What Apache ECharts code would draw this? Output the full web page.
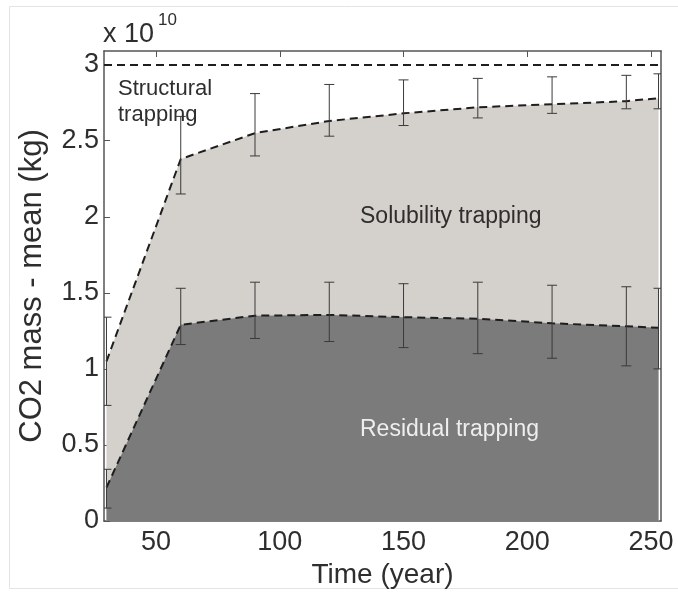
<!DOCTYPE html>
<html>
<head>
<meta charset="utf-8">
<title>CO2 trapping</title>
<script src="https://cdn.jsdelivr.net/npm/echarts@6/dist/echarts.min.js"></script>
<style>
  html, body { margin: 0; padding: 0; background: #fff; }
  #main { width: 678px; height: 595px; }
</style>
</head>
<body>
<div id="main"></div>
<script>
// time (year)
var times = [30, 60, 90, 120, 150, 180, 210, 240, 253];
// solubility + residual (x 1e10 kg)
var totalMean = [1.05, 2.38, 2.55, 2.63, 2.68, 2.72, 2.74, 2.76, 2.78];
var totalLow = [0.76, 2.15, 2.40, 2.53, 2.60, 2.65, 2.68, 2.71, 2.71];
var totalHigh = [1.34, 2.66, 2.81, 2.87, 2.90, 2.91, 2.92, 2.93, 2.94];
// residual trapping (x 1e10 kg)
var residualMean = [0.22, 1.29, 1.35, 1.355, 1.34, 1.33, 1.30, 1.28, 1.27];
var residualLow = [0.085, 1.16, 1.20, 1.18, 1.14, 1.10, 1.07, 1.02, 1.00];
var residualHigh = [0.34, 1.53, 1.57, 1.57, 1.56, 1.57, 1.55, 1.54, 1.53];
// injected total
var injectedTotal = 3;
var xTicks = [50, 100, 150, 200, 250];
var yTicks = [0, 0.5, 1, 1.5, 2, 2.5, 3];

var font = "'Liberation Sans', Arial, sans-serif";
var ink = "#2e2e2e";

function pairs (ys) {
  return times.map(function (t, i) { return [t, ys[i]]; });
}
function bars (lo, hi) {
  return times.map(function (t, i) { return [t, lo[i], hi[i]]; });
}

// error bar with small caps
function renderErrorBar (params, api) {
  var top = api.coord([api.value(0), api.value(2)]);
  var bot = api.coord([api.value(0), api.value(1)]);
  var w = 5;
  var style = { stroke: "#3a3a3a", lineWidth: 1 };
  return {
    type: "group",
    children: [
      { type: "line", shape: { x1: top[0], y1: top[1], x2: bot[0], y2: bot[1] }, style: style },
      { type: "line", shape: { x1: top[0] - w, y1: top[1], x2: top[0] + w, y2: top[1] }, style: style },
      { type: "line", shape: { x1: bot[0] - w, y1: bot[1], x2: bot[0] + w, y2: bot[1] }, style: style },
    ],
  };
}

var dashed = { color: "#1e1e1e", width: 2, type: [8, 5] };

var option = {
  animation: false,
  backgroundColor: "#fff",
  grid: { left: 104, top: 51, right: 17, bottom: 74 },
  xAxis: [
    {
      type: "value",
      min: 29,
      max: 254,
      name: "Time (year)",
      nameLocation: "middle",
      nameGap: 36,
      nameTextStyle: { fontFamily: font, fontSize: 28, color: ink },
      axisLine: { show: true, onZero: false, lineStyle: { color: "#555", width: 1.5 } },
      axisTick: { show: true, inside: true, length: 6, customValues: xTicks, lineStyle: { color: "#555" } },
      axisLabel: { customValues: xTicks, fontFamily: font, fontSize: 27, color: ink, margin: 8 },
      splitLine: { show: false },
    },
    {
      type: "value",
      position: "top",
      min: 29,
      max: 254,
      axisLine: { show: true, onZero: false, lineStyle: { color: "#555", width: 1.5 } },
      axisTick: { show: true, inside: true, length: 6, customValues: xTicks, lineStyle: { color: "#555" } },
      axisLabel: { show: false },
      splitLine: { show: false },
    },
  ],
  yAxis: [
    {
      type: "value",
      min: 0,
      max: 3.09,
      name: "CO2 mass - mean (kg)",
      nameLocation: "middle",
      nameGap: 56,
      nameTextStyle: { fontFamily: font, fontSize: 31, color: ink },
      axisLine: { show: true, onZero: false, lineStyle: { color: "#555", width: 1.5 } },
      axisTick: { show: true, inside: true, length: 6, customValues: yTicks, lineStyle: { color: "#555" } },
      axisLabel: { customValues: yTicks, fontFamily: font, fontSize: 27, color: ink, margin: 5 },
      splitLine: { show: false },
    },
    {
      type: "value",
      position: "right",
      min: 0,
      max: 3.09,
      axisLine: { show: true, onZero: false, lineStyle: { color: "#555", width: 1.5 } },
      axisTick: { show: false },
      axisLabel: { show: false },
      splitLine: { show: false },
    },
  ],
  series: [
    {
      // solubility + residual
      name: "total",
      type: "line",
      data: pairs(totalMean),
      showSymbol: false,
      lineStyle: dashed,
      areaStyle: { color: "#d4d0cb", opacity: 1, origin: "start" },
      z: 1,
      markLine: {
        silent: true,
        symbol: ["none", "none"],
        label: { show: false },
        lineStyle: { color: "#1e1e1e", width: 1.8, type: [8, 5] },
        data: [{ yAxis: injectedTotal }],
      },
    },
    {
      // residual trapping
      name: "residual",
      type: "line",
      data: pairs(residualMean),
      showSymbol: false,
      lineStyle: dashed,
      areaStyle: { color: "#7b7b7b", opacity: 1, origin: "start" },
      z: 2,
    },
    {
      type: "custom",
      renderItem: renderErrorBar,
      data: bars(totalLow, totalHigh),
      clip: true,
      z: 5,
    },
    {
      type: "custom",
      renderItem: renderErrorBar,
      data: bars(residualLow, residualHigh),
      clip: true,
      z: 5,
    },
  ],
  graphic: [
    // figure frame
    {
      type: "rect",
      shape: { x: 9.5, y: 6.5, width: 700, height: 582 },
      style: { fill: null, stroke: "#e4e4e4", lineWidth: 1 },
      silent: true,
      z: -1,
    },
    {
      type: "text",
      left: 103,
      top: 21,
      style: { text: "x 10", font: "27px " + font, fill: ink },
    },
    {
      type: "text",
      left: 158,
      top: 12,
      style: { text: "10", font: "17px " + font, fill: ink },
    },
    {
      type: "text",
      left: 118,
      top: 76,
      z: 10,
      style: { text: "Structural\ntrapping", font: "22px " + font, fill: ink, lineHeight: 26 },
    },
    {
      type: "text",
      left: 360,
      top: 205,
      z: 10,
      style: { text: "Solubility trapping", font: "23px " + font, fill: ink },
    },
    {
      type: "text",
      left: 360,
      top: 418,
      z: 10,
      style: { text: "Residual trapping", font: "23px " + font, fill: "#eeeeee" },
    },
  ],
};

var myChart = echarts.init(document.getElementById("main"));
myChart.setOption(option);
</script>
</body>
</html>
